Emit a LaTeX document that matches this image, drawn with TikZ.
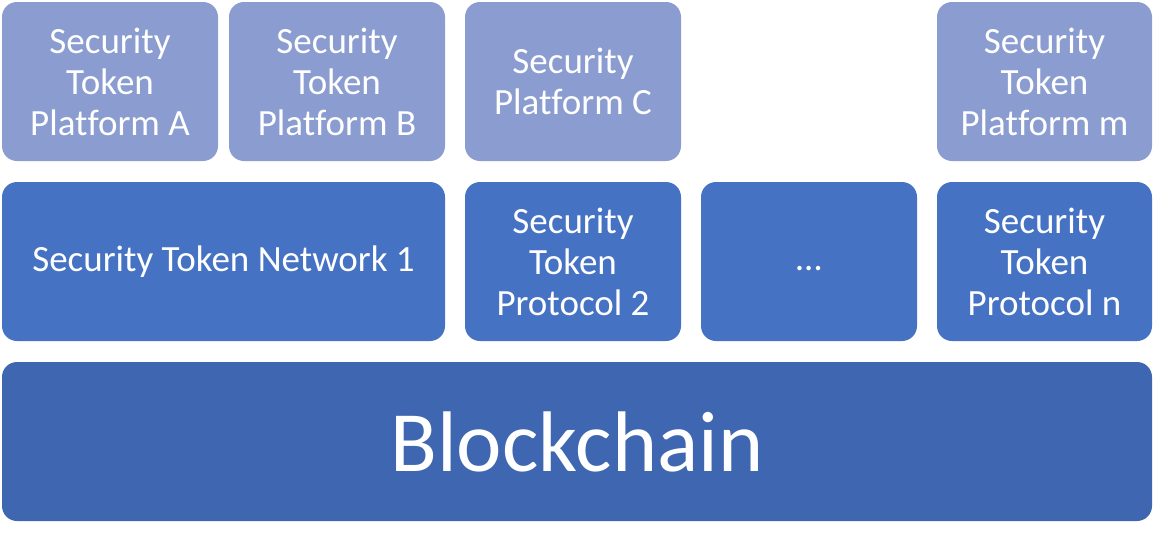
\documentclass[tikz,border=0pt]{standalone}
\usepackage{fontspec}
\setmainfont[Ligatures=NoCommon]{Carlito}
\definecolor{toprow}{RGB}{138,156,208}
\definecolor{midrow}{RGB}{70,114,196}
\definecolor{botrow}{RGB}{63,103,177}
\tikzset{
  blk/.style={rounded corners=15pt, draw=none, text=white, align=center, inner sep=0pt,
    font=\fontsize{37}{41}\selectfont},
  toprowbox/.style={blk, fill=toprow},
  midrowbox/.style={blk, fill=midrow},
  botrowbox/.style={blk, fill=botrow, font=\fontsize{86}{90}\selectfont},
}
\begin{document}
\begin{tikzpicture}[x=1pt,y=-1pt]
\useasboundingbox (0,0) rectangle (1154,544);
% top row
\node[toprowbox, minimum width=216pt, minimum height=159pt] (pa) at (110,81.5) {Security\\Token\\Platform A};
\node[toprowbox, minimum width=216pt, minimum height=159pt] (pb) at (337,81.5) {Security\\Token\\Platform B};
\node[toprowbox, minimum width=216pt, minimum height=159pt] (pc) at (573,81.5) {Security\\Platform C};
\node[toprowbox, minimum width=215pt, minimum height=159pt] (pm) at (1044.5,81.5) {Security\\Token\\Platform m};
% middle row
\node[midrowbox, minimum width=443pt, minimum height=159pt] (n1) at (223.5,261.5) {Security Token Network 1};
\node[midrowbox, minimum width=216pt, minimum height=159pt] (p2) at (573,261.5) {Security\\Token\\Protocol 2};
\node[midrowbox, minimum width=216pt, minimum height=159pt] (dots) at (809,261.5) {\vphantom{Sy}\ldots};
\node[midrowbox, minimum width=215pt, minimum height=159pt] (pn) at (1044.5,261.5) {Security\\Token\\Protocol n};
% bottom
\node[botrowbox, minimum width=1150pt, minimum height=159pt] (bc) at (577,441.5) {Blockchain};
\end{tikzpicture}
\end{document}
